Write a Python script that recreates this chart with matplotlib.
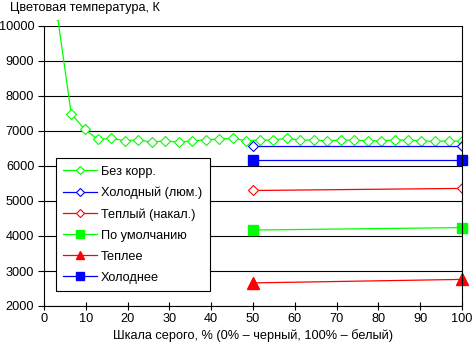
import matplotlib.pyplot as plt
from matplotlib.patches import Rectangle

plt.rcParams['font.family'] = ['Liberation Sans', 'DejaVu Sans']
plt.rcParams['font.size'] = 9.2

# шкала серого, %
gray_full = [3.2, 6.5, 9.7, 12.9, 16.1, 19.4, 22.6, 25.8, 29.0, 32.3, 35.5,
             38.7, 41.9, 45.2, 48.4, 51.6, 54.8, 58.1, 61.3, 64.5, 67.7,
             71.0, 74.2, 77.4, 80.6, 83.9, 87.1, 90.3, 93.5, 96.8, 100]
no_corr = [10300, 7500, 7050, 6760, 6790, 6720, 6750, 6680, 6720, 6680, 6720,
           6750, 6770, 6790, 6720, 6740, 6740, 6790, 6740, 6740, 6720,
           6740, 6740, 6720, 6720, 6740, 6740, 6720, 6700, 6720, 6700]

gray_two = [50, 100]
cold_lum = [6580, 6580]
warm_inc = [5300, 5360]
default = [4170, 4240]
warmer = [2660, 2760]
colder = [6170, 6170]

fig = plt.figure(figsize=(4.72, 3.49), dpi=100)
ax = fig.add_axes([44/472, 1-306/349, 418/472, 280/349])

ax.set_xlim(0, 100)
ax.set_ylim(2000, 10000)
ax.set_yticks(range(2000, 10001, 1000))
ax.set_xticks(range(0, 101, 10))
ax.grid(axis='y', color='black', linewidth=0.8)
ax.set_axisbelow(True)
for s in ['left', 'right', 'bottom']:
    ax.spines[s].set_linewidth(0.8)
ax.spines['top'].set_visible(False)
ax.tick_params(axis='x', direction='inout', length=6, width=0.8, pad=2)
ax.tick_params(axis='y', direction='out', length=4, width=0.8, pad=3)

lw = 0.9
l, = ax.plot(gray_full, no_corr, color='#00ff00', lw=lw, marker='D', ms=5.3,
             mfc='white', mec='#00ff00', mew=0.8, label='Без корр.')
l.set_clip_path(Rectangle((0, 0), 1, 1.02, transform=ax.transAxes))
ax.plot(gray_two, cold_lum, color='#0000ff', lw=lw, marker='D', ms=5.3,
        mfc='white', mec='#0000ff', mew=0.8, label='Холодный (люм.)')
ax.plot(gray_two, warm_inc, color='#ff0000', lw=lw, marker='D', ms=5.3,
        mfc='white', mec='#ff0000', mew=0.8, label='Теплый (накал.)')
ax.plot(gray_two, default, color='#00ff00', lw=lw, marker='s', ms=7,
        mfc='#00ff00', mec='#00ff00', label='По умолчанию', clip_on=False)
ax.plot(gray_two, warmer, color='#ff0000', lw=lw, marker='^', ms=8,
        mfc='#ff0000', mec='#ff0000', label='Теплее', clip_on=False)
ax.plot(gray_two, colder, color='#0000ff', lw=lw, marker='s', ms=7,
        mfc='#0000ff', mec='#0000ff', label='Холоднее', clip_on=False)

leg = ax.legend(loc='upper left', bbox_to_anchor=(0.028, 0.5275),
                borderaxespad=0, fancybox=False, framealpha=1,
                edgecolor='black', handlelength=2.6, handletextpad=0.35,
                labelspacing=0.7, borderpad=0.6, markerscale=0.8)
leg.get_frame().set_linewidth(0.8)

ax.set_xlabel('Шкала серого, % (0% – черный, 100% – белый)', labelpad=3)
fig.text(10/472, 1-8/349, 'Цветовая температура, К', va='center', ha='left')

fig.savefig('out.png', dpi=100)
